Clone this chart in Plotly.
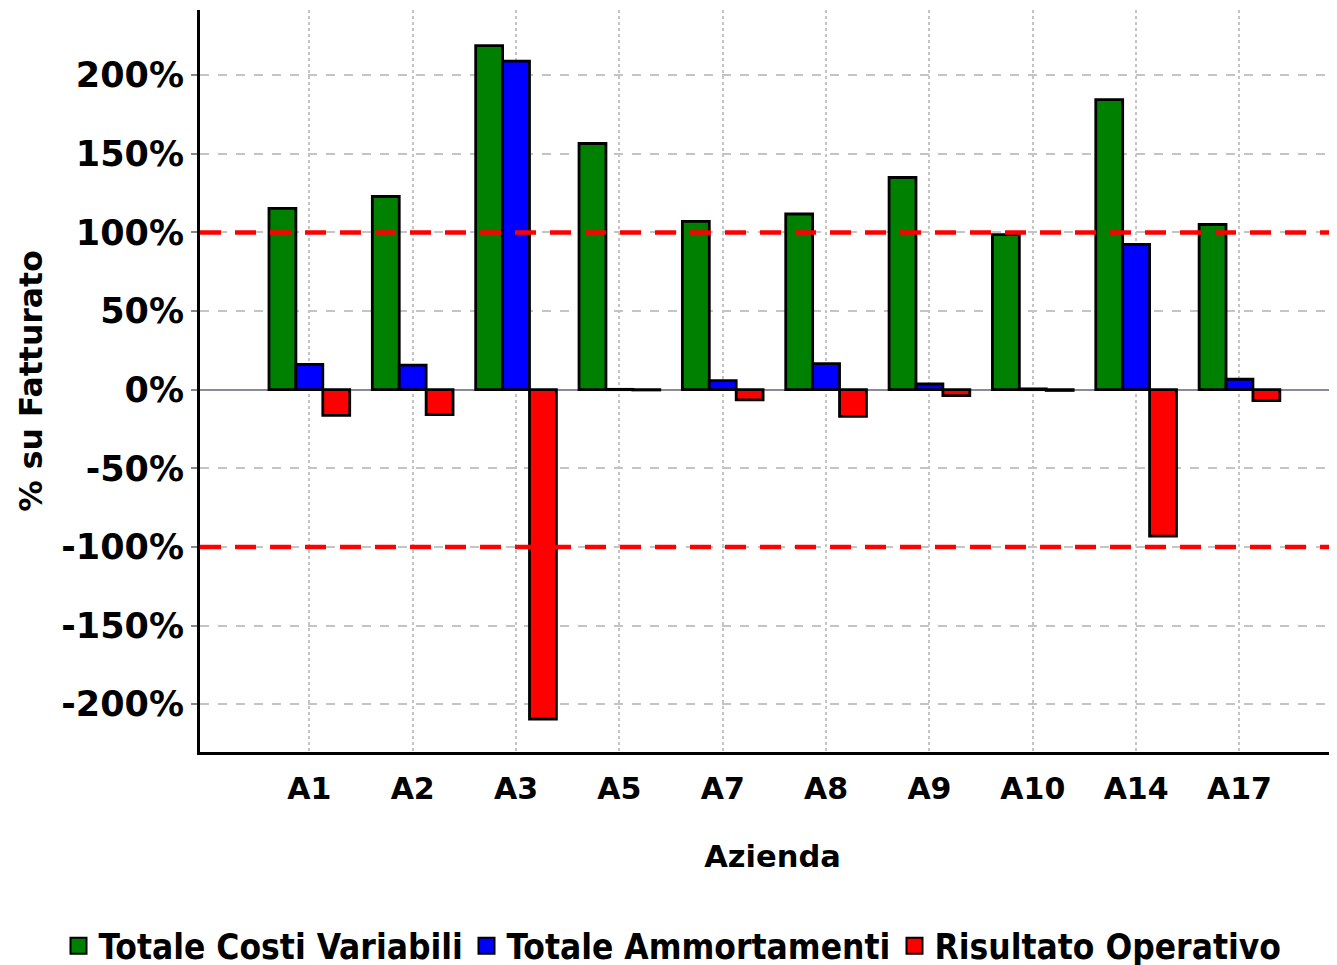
import plotly.graph_objects as go

categories = ["A1", "A2", "A3", "A5", "A7", "A8", "A9", "A10", "A14", "A17"]
costi_variabili = [115.2, 122.8, 218.8, 156.5, 107.0, 111.7, 134.9, 98.6, 184.4, 105.0]
ammortamenti = [16.0, 15.6, 208.9, 0.2, 5.8, 16.6, 3.6, 0.5, 92.4, 6.6]
risultato_operativo = [-16.3, -15.8, -209.5, -0.2, -6.5, -17.0, -3.8, -0.5, -93.1, -7.0]
series_names = ["Totale Costi Variabili", "Totale Ammortamenti", "Risultato Operativo"]
series_colors = ["#008000", "#0000ff", "#ff0000"]
threshold_levels = [100, -100]
y_ticks = [-200, -150, -100, -50, 0, 50, 100, 150, 200]
y_tick_labels = ["-200%", "-150%", "-100%", "-50%", "0%", "50%", "100%", "150%", "200%"]

FONT = "DejaVu Sans"
legend_ids = ["legend", "legend2", "legend3"]
legend_x = [50.5 / 1337, 458.5 / 1337, 886.5 / 1337]

fig = go.Figure()
for name, vals, col, lid in zip(series_names, [costi_variabili, ammortamenti, risultato_operativo],
                                series_colors, legend_ids):
    fig.add_trace(go.Bar(
        x=categories, y=vals, name=name,
        marker=dict(color=col, line=dict(color="black", width=2.8)),
        showlegend=False,
    ))
    fig.add_trace(go.Scatter(
        x=[None], y=[None], mode="markers", name=name, legend=lid, showlegend=True,
        marker=dict(symbol="square", size=20, color=col, line=dict(color="black", width=2)),
    ))

for lvl in threshold_levels:
    fig.add_shape(type="line", xref="paper", x0=0, x1=1, yref="y", y0=lvl, y1=lvl,
                  line=dict(color="#ff0000", width=4.5, dash="21px,14px"), layer="above")

legend_style = dict(orientation="h", xref="container", yref="container",
                    xanchor="left", y=0.028, yanchor="middle",
                    font=dict(family="DejaVu Sans Condensed", size=35, color="black", weight="bold"),
                    itemsizing="trace", itemwidth=30, bgcolor="rgba(0,0,0,0)")

fig.update_layout(
    width=1337, height=965,
    margin=dict(l=192, r=0, t=2, b=221, autoexpand=False),
    paper_bgcolor="white", plot_bgcolor="white",
    barmode="group", bargap=0.219, bargroupgap=0,
    font=dict(family=FONT, size=32, color="black"),
    showlegend=True,
    legend=dict(x=legend_x[0], **legend_style),
    legend2=dict(x=legend_x[1], **legend_style),
    legend3=dict(x=legend_x[2], **legend_style),
)
fig.update_xaxes(
    type="category", range=[-1.058, 10.021], automargin=False,
    showline=True, linecolor="black", linewidth=3,
    showgrid=True, gridcolor="#c4c4c4", gridwidth=2, griddash="dot",
    ticks="", ticklabelstandoff=8,
    tickfont=dict(family=FONT, size=30, weight="bold"),
    title=dict(text="Azienda", font=dict(family=FONT, size=30.5, weight="bold"), standoff=41),
    zeroline=False,
)
fig.update_yaxes(
    range=[-230.4, 241.4], tickvals=y_ticks, ticktext=y_tick_labels, automargin=False,
    showline=True, linecolor="black", linewidth=3,
    showgrid=True, gridcolor="#c4c4c4", gridwidth=1.5, griddash="dash",
    ticks="outside", ticklen=6, tickwidth=2, tickcolor="#888888",
    tickfont=dict(family=FONT, size=35, weight="bold"),
    title=dict(text="% su Fatturato", font=dict(family=FONT, size=31.5, weight="bold"), standoff=10),
    zeroline=True, zerolinecolor="#8a8a9a", zerolinewidth=2,
)

fig.write_html("out.html")
